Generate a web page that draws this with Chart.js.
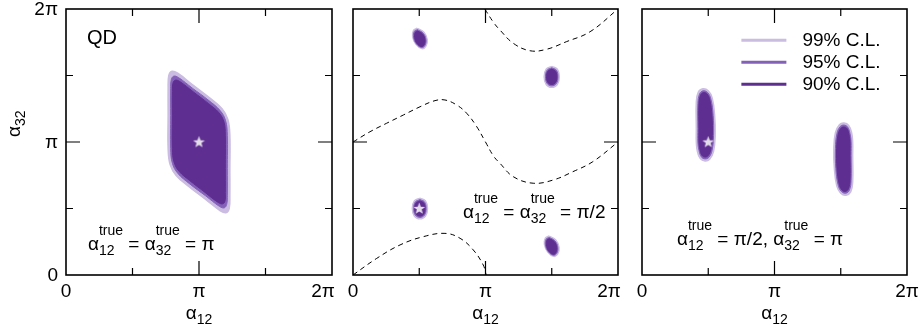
<!DOCTYPE html>
<html>
<head>
<meta charset="utf-8">
<script src="https://cdn.jsdelivr.net/npm/chart.js@4.4.1/dist/chart.umd.min.js"></script>
<style>
  body { margin: 0; background: #fff; }
  #wrap { position: relative; width: 921px; height: 332px; }
  #wrap canvas { position: absolute; left: 0; top: 0; }
</style>
</head>
<body>
<div id="wrap">
  <canvas id="panel-qd" width="921" height="332"></canvas>
  <canvas id="panel-half" width="921" height="332"></canvas>
  <canvas id="panel-mixed" width="921" height="332"></canvas>
</div>
<script>
// all coordinates in units of pi
const tickValues = [0, 0.5, 1, 1.5, 2]
const tickLabels = ['0', '', 'π', '', '2π']

const levelLabels = ['99% C.L.', '95% C.L.', '90% C.L.']
const levelColors = ['#cbbde2', '#8461b8', '#5e2e91']

// panel 1: QD, true point (pi, pi)
const qd99 = [[0.768, 1.20], [0.768, 1.40], [0.773, 1.50], [0.798, 1.532], [0.840, 1.517], [0.950, 1.432], [1.080, 1.332], [1.172, 1.252], [1.217, 1.170], [1.232, 1.050], [1.232, 0.800], [1.232, 0.600], [1.227, 0.500], [1.202, 0.468], [1.160, 0.483], [1.050, 0.568], [0.920, 0.668], [0.828, 0.748], [0.783, 0.830], [0.768, 0.950], [0.768, 1.20]]
const qd95 = [[0.787, 1.20], [0.787, 1.40], [0.792, 1.470], [0.810, 1.495], [0.845, 1.485], [0.950, 1.405], [1.070, 1.315], [1.160, 1.235], [1.200, 1.160], [1.213, 1.050], [1.213, 0.800], [1.213, 0.600], [1.208, 0.530], [1.190, 0.505], [1.155, 0.515], [1.050, 0.595], [0.930, 0.685], [0.840, 0.765], [0.800, 0.840], [0.787, 0.950], [0.787, 1.20]]
const qd90 = [[0.800, 1.20], [0.800, 1.380], [0.805, 1.445], [0.822, 1.465], [0.855, 1.455], [0.960, 1.375], [1.070, 1.290], [1.150, 1.220], [1.188, 1.150], [1.198, 1.050], [1.198, 0.800], [1.198, 0.620], [1.195, 0.555], [1.178, 0.535], [1.145, 0.545], [1.040, 0.625], [0.930, 0.710], [0.850, 0.780], [0.812, 0.850], [0.800, 0.950], [0.800, 1.20]]
const qdTrue = [[1, 1]]

// panel 2: true point (pi/2, pi/2), four islands
const half99 = [
  [[0.485, 1.855], [0.535, 1.825], [0.560, 1.770], [0.550, 1.720], [0.520, 1.702], [0.475, 1.735], [0.450, 1.790], [0.457, 1.840], [0.485, 1.855]],
  [[1.500, 1.569], [1.542, 1.548], [1.557, 1.490], [1.542, 1.432], [1.500, 1.411], [1.458, 1.432], [1.443, 1.490], [1.458, 1.548], [1.500, 1.569]],
  [[0.505, 0.578], [0.547, 0.557], [0.562, 0.500], [0.547, 0.443], [0.505, 0.422], [0.463, 0.443], [0.448, 0.500], [0.463, 0.557], [0.505, 0.578]],
  [[1.480, 0.293], [1.530, 0.263], [1.555, 0.208], [1.545, 0.158], [1.515, 0.140], [1.470, 0.173], [1.445, 0.228], [1.452, 0.278], [1.480, 0.293]],
]
const half95 = [
  [[0.486, 1.845], [0.530, 1.818], [0.551, 1.770], [0.543, 1.725], [0.518, 1.710], [0.478, 1.738], [0.457, 1.789], [0.463, 1.832], [0.486, 1.845]],
  [[1.500, 1.558], [1.535, 1.540], [1.547, 1.490], [1.535, 1.440], [1.500, 1.422], [1.465, 1.440], [1.453, 1.490], [1.465, 1.540], [1.500, 1.558]],
  [[0.505, 0.567], [0.540, 0.549], [0.552, 0.500], [0.540, 0.451], [0.505, 0.433], [0.470, 0.451], [0.458, 0.500], [0.470, 0.549], [0.505, 0.567]],
  [[1.481, 0.283], [1.525, 0.256], [1.546, 0.208], [1.538, 0.163], [1.513, 0.148], [1.473, 0.176], [1.452, 0.227], [1.458, 0.270], [1.481, 0.283]],
]
const half90 = [
  [[0.487, 1.835], [0.525, 1.812], [0.543, 1.770], [0.536, 1.730], [0.515, 1.718], [0.482, 1.742], [0.465, 1.788], [0.470, 1.825], [0.487, 1.835]],
  [[1.500, 1.548], [1.529, 1.532], [1.539, 1.490], [1.529, 1.448], [1.500, 1.432], [1.471, 1.448], [1.461, 1.490], [1.471, 1.532], [1.500, 1.548]],
  [[0.505, 0.557], [0.534, 0.541], [0.544, 0.500], [0.534, 0.459], [0.505, 0.443], [0.476, 0.459], [0.466, 0.500], [0.476, 0.541], [0.505, 0.557]],
  [[1.482, 0.273], [1.520, 0.250], [1.538, 0.208], [1.531, 0.168], [1.510, 0.156], [1.477, 0.180], [1.460, 0.226], [1.465, 0.263], [1.482, 0.273]],
]
const halfTrue = [[0.5, 0.5]]
// dashed curves
const curveMid = [[0, 1.0], [0.128, 1.077], [0.254, 1.141], [0.380, 1.203], [0.506, 1.265], [0.619, 1.311], [0.694, 1.316], [0.783, 1.278], [0.858, 1.216], [0.934, 1.115], [1.0, 1.0], [1.060, 0.895], [1.109, 0.840], [1.210, 0.739], [1.360, 0.690], [1.510, 0.714], [1.660, 0.777], [1.810, 0.852], [2.0, 1.0]]
const curveLow = [[0, 0], [0.179, 0.125], [0.355, 0.226], [0.530, 0.288], [0.694, 0.313], [0.808, 0.276], [0.908, 0.188], [0.983, 0.075], [1.005, 0]]
const curveHigh = [[0.995, 2.0], [1.060, 1.900], [1.109, 1.842], [1.210, 1.742], [1.336, 1.686], [1.460, 1.697], [1.610, 1.754], [1.789, 1.829], [2.0, 2.0]]

// panel 3: true point (pi/2, pi)
const mixed99 = [
  [[0.410, 1.10], [0.410, 1.30], [0.425, 1.375], [0.460, 1.400], [0.500, 1.385], [0.530, 1.330], [0.548, 1.200], [0.552, 1.050], [0.540, 0.930], [0.510, 0.870], [0.475, 0.858], [0.440, 0.875], [0.418, 0.930], [0.410, 1.000], [0.410, 1.10]],
  [[1.590, 0.90], [1.590, 0.70], [1.575, 0.625], [1.540, 0.600], [1.500, 0.615], [1.470, 0.670], [1.452, 0.800], [1.448, 0.950], [1.460, 1.070], [1.490, 1.130], [1.525, 1.142], [1.560, 1.125], [1.582, 1.070], [1.590, 1.000], [1.590, 0.90]],
]
const mixed95 = [
  [[0.422, 1.10], [0.422, 1.29], [0.435, 1.362], [0.462, 1.385], [0.495, 1.372], [0.520, 1.322], [0.537, 1.200], [0.540, 1.050], [0.529, 0.938], [0.505, 0.885], [0.476, 0.873], [0.448, 0.888], [0.430, 0.938], [0.422, 1.000], [0.422, 1.10]],
  [[1.578, 0.90], [1.578, 0.71], [1.565, 0.638], [1.538, 0.615], [1.505, 0.628], [1.480, 0.678], [1.463, 0.800], [1.460, 0.950], [1.471, 1.062], [1.495, 1.115], [1.524, 1.127], [1.552, 1.112], [1.570, 1.062], [1.578, 1.000], [1.578, 0.90]],
]
const mixed90 = [
  [[0.430, 1.10], [0.430, 1.285], [0.442, 1.352], [0.465, 1.372], [0.492, 1.360], [0.512, 1.315], [0.528, 1.200], [0.531, 1.050], [0.520, 0.945], [0.500, 0.898], [0.476, 0.887], [0.452, 0.900], [0.437, 0.945], [0.430, 1.000], [0.430, 1.10]],
  [[1.570, 0.90], [1.570, 0.715], [1.558, 0.648], [1.535, 0.628], [1.508, 0.640], [1.488, 0.685], [1.472, 0.800], [1.469, 0.950], [1.480, 1.055], [1.500, 1.102], [1.524, 1.113], [1.548, 1.100], [1.563, 1.055], [1.570, 1.000], [1.570, 0.90]],
]
const mixedTrue = [[0.5, 1]]

const FONT = '"Liberation Sans", Arial, Helvetica, sans-serif'

// little filled five point star for the true values
const starImage = document.createElement('canvas')
starImage.width = 13
starImage.height = 13
;(function () {
  const c = starImage.getContext('2d')
  c.fillStyle = '#e2dde8'
  c.beginPath()
  for (let i = 0; i < 10; i++) {
    const r = i % 2 ? 2.6 : 6.2
    const a = -Math.PI / 2 + (i * Math.PI) / 5
    c.lineTo(6.5 + r * Math.cos(a), 6.8 + r * Math.sin(a))
  }
  c.closePath()
  c.fill()
})()

const toXY = (pts) => pts.map(([x, y]) => ({ x, y }))

function regionSets(shapes, level) {
  return shapes.map((shape) => ({
    label: levelLabels[level],
    data: toXY(shape),
    showLine: true,
    fill: 'shape',
    tension: 0.4,
    backgroundColor: levelColors[level],
    borderColor: levelColors[level],
    borderWidth: level === 0 ? 1.5 : 1,
    pointRadius: 0,
    order: 4 - level,
  }))
}

function dashedSet(pts) {
  return {
    data: toXY(pts),
    showLine: true,
    fill: false,
    tension: 0.4,
    borderColor: '#000',
    borderWidth: 1,
    borderDash: [5, 4],
    pointRadius: 0,
    order: 1,
  }
}

function starSet(pts) {
  return {
    data: toXY(pts),
    showLine: false,
    pointStyle: starImage,
    pointRadius: 6,
    order: 0,
  }
}

function drawRich(ctx, x, y, parts, size) {
  ctx.textAlign = 'left'
  ctx.textBaseline = 'alphabetic'
  parts.forEach((p) => {
    if (p.t) {
      ctx.font = `${size}px ${FONT}`
      ctx.fillText(p.t, x, y)
      x += ctx.measureText(p.t).width
    } else {
      ctx.font = `${Math.round(size * 0.74)}px ${FONT}`
      let w = 0
      if (p.sup) {
        ctx.fillText(p.sup, x, y - size * 0.8)
        w = ctx.measureText(p.sup).width
      }
      if (p.sub) {
        ctx.fillText(p.sub, x, y + size * 0.28)
        w = Math.max(w, ctx.measureText(p.sub).width)
      }
      x += w
    }
  })
  return x
}

function richWidth(ctx, parts, size) {
  let w = 0
  parts.forEach((p) => {
    if (p.t) {
      ctx.font = `${size}px ${FONT}`
      w += ctx.measureText(p.t).width
    } else {
      ctx.font = `${Math.round(size * 0.74)}px ${FONT}`
      w += Math.max(p.sup ? ctx.measureText(p.sup).width : 0, p.sub ? ctx.measureText(p.sub).width : 0)
    }
  })
  return w
}

const panelDecor = {
  id: 'panelDecor',
  afterDraw(chart, args, opts) {
    const { ctx, chartArea: a } = chart
    const xs = chart.scales.x
    const ys = chart.scales.y
    ctx.save()
    ctx.fillStyle = '#000'
    ctx.strokeStyle = '#000'

    // inward ticks on all four sides
    ctx.lineWidth = 1.2
    ctx.beginPath()
    tickValues.forEach((v, i) => {
      if (v === 0 || v === 2) return
      const len = tickLabels[i] ? 14 : 7
      const px = xs.getPixelForValue(v)
      const py = ys.getPixelForValue(v)
      ctx.moveTo(px, a.bottom); ctx.lineTo(px, a.bottom - len)
      ctx.moveTo(px, a.top); ctx.lineTo(px, a.top + len)
      ctx.moveTo(a.left, py); ctx.lineTo(a.left + len, py)
      ctx.moveTo(a.right, py); ctx.lineTo(a.right - len, py)
    })
    ctx.stroke()

    ctx.lineWidth = 1.6
    ctx.strokeRect(a.left, a.top, a.right - a.left, a.bottom - a.top)

    // tick labels
    ctx.font = `19px ${FONT}`
    ctx.textAlign = 'center'
    ctx.textBaseline = 'alphabetic'
    tickValues.forEach((v, i) => {
      if (!tickLabels[i]) return
      const shift = v === 2 ? opts.lastShift || 0 : 0
      ctx.fillText(tickLabels[i], xs.getPixelForValue(v) + shift, a.bottom + 22)
    })
    if (opts.yLabels) {
      ctx.textAlign = 'right'
      ctx.textBaseline = 'middle'
      tickValues.forEach((v, i) => {
        if (!tickLabels[i]) return
        ctx.fillText(tickLabels[i], a.left - 8, ys.getPixelForValue(v) + 1)
      })
    }

    // axis titles
    const xTitle = [{ t: 'α' }, { sub: '12' }]
    const w = richWidth(ctx, xTitle, 19)
    drawRich(ctx, (a.left + a.right) / 2 - w / 2, a.bottom + 44, xTitle, 19)
    if (opts.yTitle) {
      ctx.save()
      ctx.translate(a.left - 46, ys.getPixelForValue(1) - 5)
      ctx.rotate(-Math.PI / 2)
      drawRich(ctx, 0, 0, [{ t: 'α' }, { sub: '32' }], 19)
      ctx.restore()
    }

    // notes inside the frame
    ;(opts.notes || []).forEach((n) => {
      drawRich(ctx, xs.getPixelForValue(n.x), ys.getPixelForValue(n.y), n.parts, n.size || 19)
    })

    // legend
    if (opts.legend) {
      const lx = xs.getPixelForValue(opts.legend.x)
      let ly = ys.getPixelForValue(opts.legend.y)
      levelLabels.forEach((label, i) => {
        ctx.strokeStyle = levelColors[i]
        ctx.lineWidth = 3
        ctx.beginPath()
        ctx.moveTo(lx, ly)
        ctx.lineTo(lx + 45, ly)
        ctx.stroke()
        ctx.font = `19px ${FONT}`
        ctx.textAlign = 'left'
        ctx.textBaseline = 'middle'
        ctx.fillText(label, lx + 61, ly + 1)
        ly += 22
      })
    }
    ctx.restore()
  },
}

function makePanel(id, left, right, datasets, decor) {
  return new Chart(document.getElementById(id), {
    type: 'scatter',
    data: { datasets },
    options: {
      responsive: false,
      animation: false,
      events: [],
      layout: { padding: { left, right: 921 - right, top: 9, bottom: 332 - 275 } },
      scales: {
        x: { type: 'linear', min: 0, max: 2, display: false },
        y: { type: 'linear', min: 0, max: 2, display: false },
      },
      plugins: {
        legend: { display: false },
        tooltip: { enabled: false },
        panelDecor: decor,
      },
    },
    plugins: [panelDecor],
  })
}

makePanel('panel-qd', 66, 332, [
  starSet(qdTrue),
  ...regionSets([qd90], 2),
  ...regionSets([qd95], 1),
  ...regionSets([qd99], 0),
], {
  yLabels: true,
  yTitle: true,
  lastShift: -9,
  notes: [
    { x: 0.158, y: 1.735, parts: [{ t: 'QD' }], size: 20 },
    { x: 0.165, y: 0.19, parts: [{ t: 'α' }, { sub: '12', sup: 'true' }, { t: ' = α' }, { sub: '32', sup: 'true' }, { t: ' = π' }] },
  ],
})

makePanel('panel-half', 353, 618, [
  starSet(halfTrue),
  dashedSet(curveMid),
  dashedSet(curveLow),
  dashedSet(curveHigh),
  ...regionSets(half90, 2),
  ...regionSets(half95, 1),
  ...regionSets(half99, 0),
], {
  lastShift: -9,
  notes: [
    { x: 0.83, y: 0.43, parts: [{ t: 'α' }, { sub: '12', sup: 'true' }, { t: ' = α' }, { sub: '32', sup: 'true' }, { t: ' = π/2' }] },
  ],
})

makePanel('panel-mixed', 642, 907, [
  starSet(mixedTrue),
  ...regionSets(mixed90, 2),
  ...regionSets(mixed95, 1),
  ...regionSets(mixed99, 0),
], {
  notes: [
    { x: 0.264, y: 0.226, parts: [{ t: 'α' }, { sub: '12', sup: 'true' }, { t: ' = π/2, α' }, { sub: '32', sup: 'true' }, { t: ' = π' }] },
  ],
  legend: { x: 0.75, y: 1.765 },
})
</script>
</body>
</html>
